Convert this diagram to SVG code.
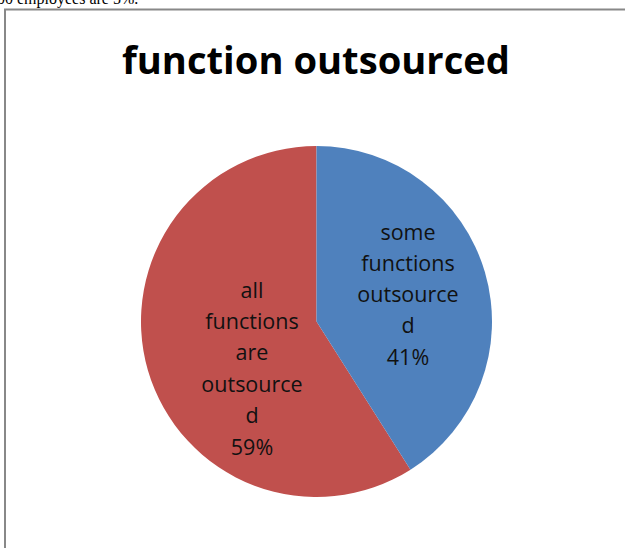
<svg xmlns="http://www.w3.org/2000/svg" width="625" height="548" viewBox="0 0 625 548">
<style>
.lbl{font-family:"Open Sans","Liberation Sans",sans-serif;font-size:21.5px;fill:#111;text-anchor:middle}
.title{font-family:"Open Sans","Liberation Sans",sans-serif;font-size:38px;font-weight:bold;fill:#000;text-anchor:middle}
.top{font-family:"Liberation Serif",serif;font-size:16px;fill:#000}
</style>
<rect width="625" height="548" fill="#fff"/>
<text class="top" x="-3" y="4">00 employees are 5%.</text>
<path d="M5 548 V9.5 H625" fill="none" stroke="#888" stroke-width="2"/>
<text class="title" x="316" y="74" textLength="388" lengthAdjust="spacingAndGlyphs">function outsourced</text>
<g id="slice-all">
<path d="M316.5 321.5 L410.5 469.7 A175.5 175.5 0 1 1 316.5 146 Z" fill="#C0504D"/>
<text class="lbl" x="252" y="298">all</text>
<text class="lbl" x="252" y="329">functions</text>
<text class="lbl" x="252" y="360">are</text>
<text class="lbl" x="252" y="392">outsource</text>
<text class="lbl" x="252" y="423">d</text>
<text class="lbl" x="252" y="455">59%</text>
</g>
<g id="slice-some">
<path d="M316.5 321.5 L316.5 146 A175.5 175.5 0 0 1 410.5 469.7 Z" fill="#4F81BD"/>
<text class="lbl" x="408" y="240">some</text>
<text class="lbl" x="408" y="271">functions</text>
<text class="lbl" x="408" y="302">outsource</text>
<text class="lbl" x="408" y="333">d</text>
<text class="lbl" x="408" y="365">41%</text>
</g>
<g id="connectors"/>
</svg>
